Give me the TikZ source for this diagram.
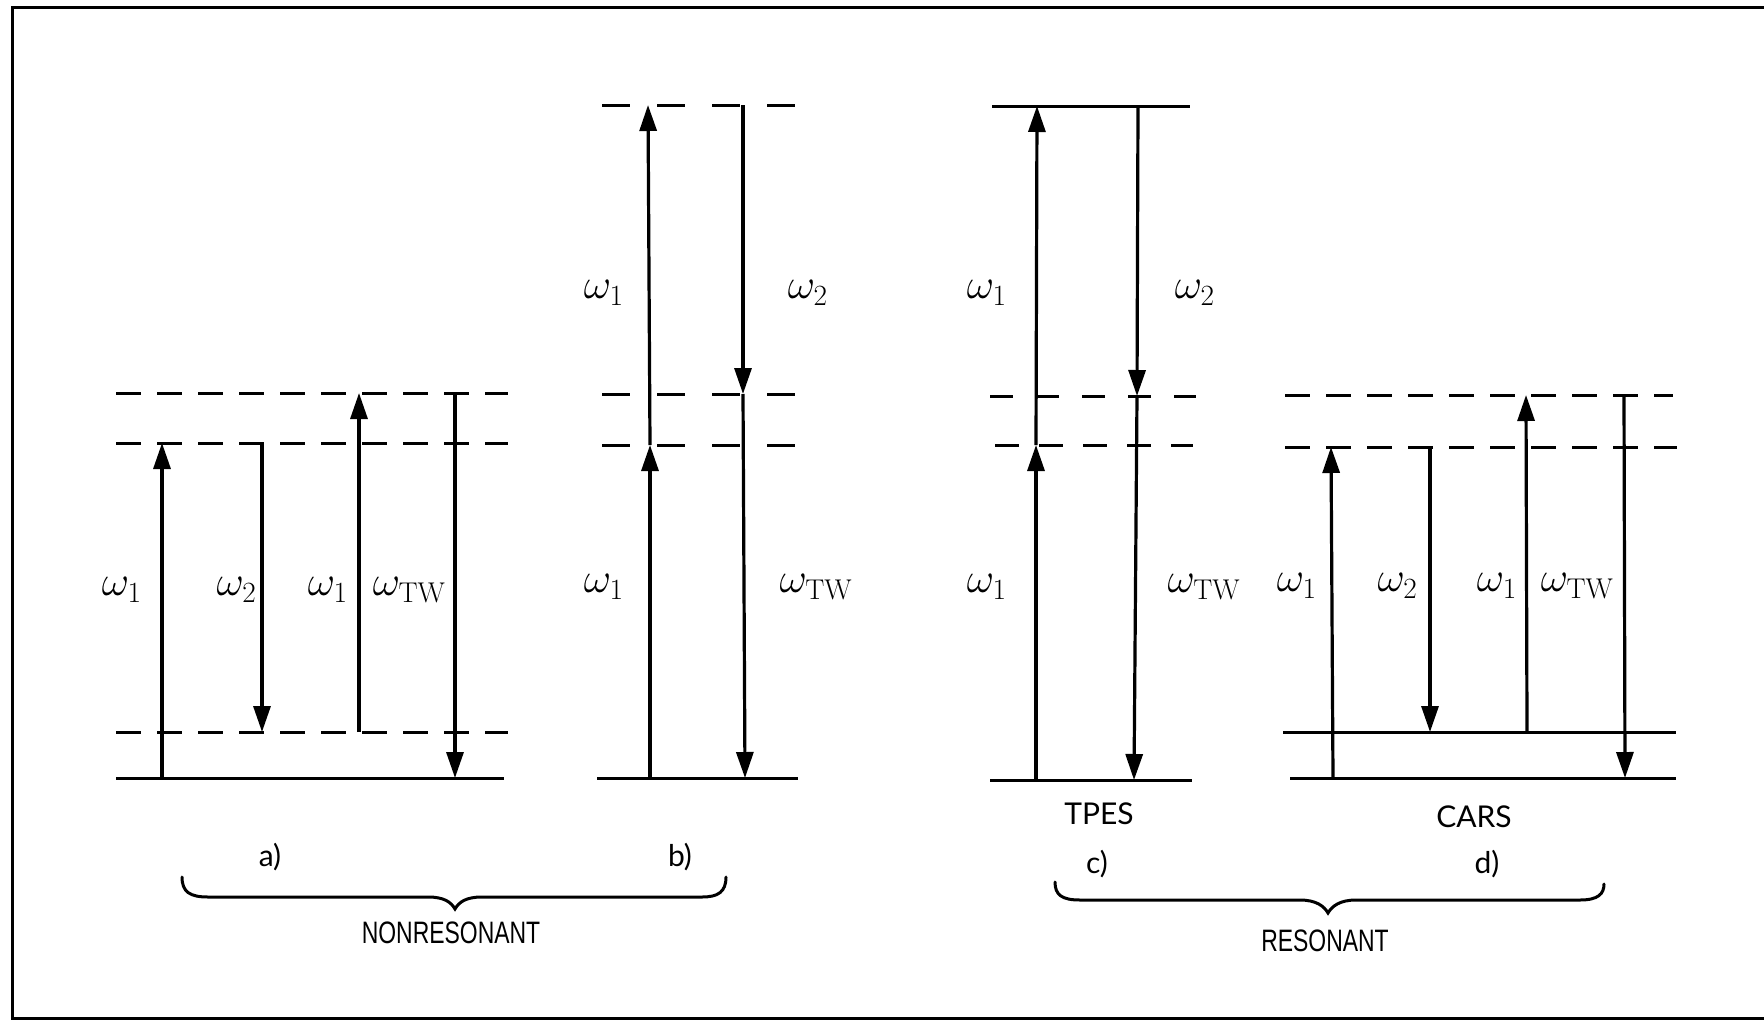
\documentclass[tikz,border=0pt]{standalone}
\usepackage{fontspec}
\usepackage{graphicx}
\newfontfamily\printfont{Liberation Sans}
\newfontfamily\handfont{Lato}
\usetikzlibrary{arrows.meta}
\newcommand{\bigom}[1]{\scalebox{1.7}{\fontsize{24}{28}\selectfont$\omega_{#1}$}}
\begin{document}
\begin{tikzpicture}[x=1pt,y=-1pt,
  solidlvl/.style={line width=3pt},
  dashlvl/.style={line width=3pt, dash pattern=on 25pt off 16pt},
  dashwide/.style={line width=3pt, dash pattern=on 28pt off 27pt},
  dashc/.style={line width=3pt, dash pattern=on 23pt off 23pt},
  dashcl/.style={line width=3pt, dash pattern=on 24pt off 20pt},
  arr/.style={line width=3.2pt, -{Triangle[width=17pt,length=26pt]}},
  om/.style={inner sep=0pt},
  hand/.style={inner sep=0pt, font=\handfont\fontsize{30}{34}\selectfont},
  printed/.style={inner sep=0pt, font=\printfont\fontsize{31}{34}\selectfont, xscale=0.74},
  brace/.style={line width=3pt, line cap=round}]
\useasboundingbox (0,0) rectangle (1764,1020);
% frame
\draw[line width=3pt] (1764,7) -- (12,7) -- (12,1018) -- (1764,1018);

% ---------- panel a ----------
\draw[dashlvl] (116,393) -- (508,393);
\draw[dashlvl] (116,443) -- (508,443);
\draw[dashlvl] (116,732) -- (508,732);
\draw[solidlvl] (116,778) -- (504,778);
\coordinate (a1s) at (162,778); \coordinate (a1e) at (162,443);
\coordinate (a2s) at (262,445); \coordinate (a2e) at (262,732);
\coordinate (a3s) at (359,732); \coordinate (a3e) at (359,393);
\coordinate (a4s) at (455,393); \coordinate (a4e) at (455,778);
\draw[arr] (a1s) -- (a1e);
\draw[arr] (a2s) -- (a2e);
\draw[arr] (a3s) -- (a3e);
\draw[arr] (a4s) -- (a4e);
\node[om] (la1) at (122,590) {\bigom{1}};
\node[om, anchor=east] (la2) at (257,590) {\bigom{2}};
\node[om] (la3) at (328,590) {\bigom{1}};
\node[om, anchor=east] (la4) at (446,590) {\bigom{\mathrm{TW}}};

% ---------- panel b ----------
\draw[dashwide] (602,105) -- (799,105);
\draw[dashwide] (602,394) -- (799,394);
\draw[dashwide] (602,445) -- (796,445);
\draw[solidlvl] (597,778) -- (798,778);
\coordinate (b1s) at (650,778); \coordinate (b1m) at (650,445); \coordinate (b1e) at (648,105);
\coordinate (b2s) at (743,105); \coordinate (b2m) at (743,394); \coordinate (b2e) at (745,778);
\draw[arr] (b1s) -- (b1m);
\draw[arr] (b1m) -- (b1e);
\draw[arr] (b2s) -- (b2m);
\draw[arr] (b2m) -- (b2e);
\node[om] (lb1) at (604,293) {\bigom{1}};
\node[om] (lb2) at (808,293) {\bigom{2}};
\node[om] (lb3) at (604,587) {\bigom{1}};
\node[om] (lb4) at (816,587) {\bigom{\mathrm{TW}}};

% ---------- panel c ----------
\draw[solidlvl] (992,106) -- (1190,106);
\draw[dashc] (990,396) -- (1196,396);
\draw[dashcl] (995,445) -- (1193,445);
\draw[solidlvl] (990,780) -- (1192,780);
\coordinate (c1s) at (1036,780); \coordinate (c1m) at (1036,445); \coordinate (c1e) at (1037,106);
\coordinate (c2s) at (1138,106); \coordinate (c2m) at (1137,396); \coordinate (c2e) at (1134,780);
\draw[arr] (c1s) -- (c1m);
\draw[arr] (c1m) -- (c1e);
\draw[arr] (c2s) -- (c2m);
\draw[arr] (c2m) -- (c2e);
\node[om] (lc1) at (987,293) {\bigom{1}};
\node[om] (lc2) at (1195,293) {\bigom{2}};
\node[om] (lc3) at (987,587) {\bigom{1}};
\node[om] (lc4) at (1204,587) {\bigom{\mathrm{TW}}};
\node[hand] (tpes) at (1099,814) {TPES};

% ---------- panel d ----------
\draw[dashlvl] (1285,395) -- (1673,395);
\draw[dashlvl] (1285,447) -- (1677,447);
\draw[solidlvl] (1283,732) -- (1676,732);
\draw[solidlvl] (1290,778) -- (1676,778);
\coordinate (d1s) at (1333,778); \coordinate (d1e) at (1331,447);
\coordinate (d2s) at (1430,447); \coordinate (d2e) at (1430,732);
\coordinate (d3s) at (1527,732); \coordinate (d3e) at (1526,395);
\coordinate (d4s) at (1624,395); \coordinate (d4e) at (1625,778);
\draw[arr] (d1s) -- (d1e);
\draw[arr] (d2s) -- (d2e);
\draw[arr] (d3s) -- (d3e);
\draw[arr] (d4s) -- (d4e);
\node[om] (ld1) at (1297,586) {\bigom{1}};
\node[om, anchor=east] (ld2) at (1418,586) {\bigom{2}};
\node[om] (ld3) at (1497,586) {\bigom{1}};
\node[om, anchor=east] (ld4) at (1614,586) {\bigom{\mathrm{TW}}};
\node[hand] (cars) at (1474,817) {CARS};

% ---------- labels and braces ----------
\node[hand] (la) at (270,857) {a)};
\node[hand] (lb) at (680,857) {b)};
\node[hand] (lc) at (1097,864) {c)};
\node[hand] (ld) at (1487,864) {d)};

\draw[brace] (182,877) .. controls (182,892) and (190,897) .. (208,897) -- (428,897)
  .. controls (444,897) and (451,902) .. (455,909)
  .. controls (459,902) and (466,897) .. (482,897) -- (702,897)
  .. controls (718,897) and (726,892) .. (726,877);
\draw[brace] (1055,882) .. controls (1055,895) and (1062,900) .. (1080,900) -- (1300,900)
  .. controls (1316,900) and (1324,906) .. (1328,913)
  .. controls (1332,906) and (1340,900) .. (1356,900) -- (1580,900)
  .. controls (1598,900) and (1604,894) .. (1604,884);

\node[printed] (nonres) at (451,933) {NONRESONANT};
\node[printed] (res) at (1325,941) {RESONANT};
\end{tikzpicture}
\end{document}
